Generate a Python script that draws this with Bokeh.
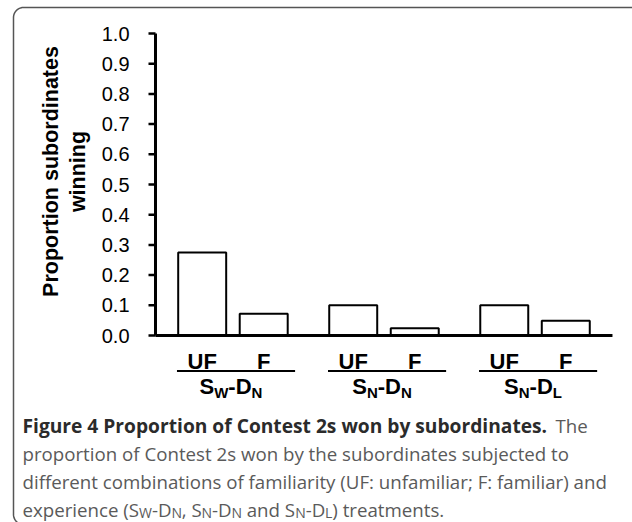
import numpy as np
from bokeh.plotting import figure
from bokeh.models import Range1d, Label, Arrow, ColumnDataSource
from bokeh.core.properties import value
from bokeh.embed import file_html
from bokeh.resources import INLINE

# ---------------- data ----------------
groups = ["SW-DN", "SN-DN", "SN-DL"]
familiarity = ["UF", "F"]
proportions = [0.275, 0.072, 0.100, 0.024, 0.100, 0.049]
y_ticks = [0.0, 0.1, 0.2, 0.3, 0.4, 0.5, 0.6, 0.7, 0.8, 0.9, 1.0]
y_tick_labels = ["0.0", "0.1", "0.2", "0.3", "0.4", "0.5", "0.6", "0.7", "0.8", "0.9", "1.0"]
group_pieces = [("S", "W", "-D", "N"), ("S", "N", "-D", "N"), ("S", "N", "-D", "L")]

# ---------------- layout ----------------
W, H = 632, 522
AX_X, AX_Y0, AX_Y1 = 155, 335, 33      # axis position in canvas px
UNIT_PX = 61.52                          # px per category slot
GP = 0.455                               # gap between groups (in slots)
PAD = 0.259                              # axis overhang beyond bars (in slots)
PX_PER_Y = AX_Y0 - AX_Y1

X0 = -PAD - AX_X / UNIT_PX
X1 = X0 + W / UNIT_PX
Y0 = -(H - AX_Y0) / PX_PER_Y
Y1 = 1 + AX_Y1 / PX_PER_Y

def sx(x):
    return x

def sy(y):
    return H - y

def dx(px):
    return X0 + np.asarray(px) / UNIT_PX

def dy(py):
    return (AX_Y0 - np.asarray(py)) / PX_PER_Y

n_f = len(familiarity)
slot = [g * (n_f + GP) + f + 0.5 for g in range(len(groups)) for f in range(n_f)]
fam_labels = [f for g in groups for f in familiarity]
total = len(groups) * n_f + (len(groups) - 1) * GP

p = figure(x_range=Range1d(X0, X1), y_range=Range1d(Y0, Y1), width=W, height=H,
           output_backend="svg", toolbar_location=None,
           x_axis_location=None, y_axis_location=None,
           min_border=0, min_border_left=0, min_border_right=0,
           min_border_top=0, min_border_bottom=0)
p.outline_line_color = None
p.background_fill_color = "white"
p.border_fill_color = "white"
p.xgrid.visible = False
p.ygrid.visible = False

# card border (rounded on the left, runs off the right and bottom edges)
R = 10
L_, T_, B_, RT = 13, 7, 524, 650
t1 = np.linspace(np.pi / 2, np.pi, 12)      # top-left corner
t2 = np.linspace(np.pi, 1.5 * np.pi, 12)    # bottom-left corner
cx = np.concatenate([[RT], L_ + R + R * np.cos(t1), L_ + R + R * np.cos(t2), [RT]])
cy = np.concatenate([[T_], T_ + R - R * np.sin(t1), B_ - R - R * np.sin(t2), [B_]])
p.line(x=dx(cx), y=dy(cy), line_color="#555555", line_width=1.5)

# bars
src = ColumnDataSource(dict(x=slot, top=proportions, lab=fam_labels))
p.vbar(x="x", top="top", bottom=0, width=0.78, source=src, fill_color="white",
       line_color="black", line_width=2)

# axes lines
ax = -PAD
p.segment(x0=[ax], y0=[0], x1=[total + PAD], y1=[0], line_color="black", line_width=3)
p.segment(x0=[ax], y0=[0], x1=[ax], y1=[1], line_color="black", line_width=3)

# y ticks + labels
tsrc = ColumnDataSource(dict(y=y_ticks, lab=y_tick_labels, x=[ax] * len(y_ticks)))
p.ray(x="x", y="y", length=7, length_units="screen", angle=180, angle_units="deg",
      source=tsrc, line_color="black", line_width=2.5)
p.text(x="x", y="y", text="lab", source=tsrc, x_offset=-26, text_align="right",
       text_baseline="middle", text_font=value("Liberation Sans"),
       text_font_size="20px", text_color="black")

# x category labels
p.text(x="x", y=0, text="lab", source=src, y_offset=26, text_align="center",
       text_baseline="alphabetic", text_font=value("Liberation Sans"),
       text_font_style="bold", text_font_size="22px", text_color="black")

# y axis title (two lines)
for txt, px in (("Proportion subordinates", 50), ("winning", 77)):
    p.add_layout(Label(x=sx(px), y=sy(171), x_units="screen", y_units="screen",
                       text=txt, angle=90, angle_units="deg",
                       text_align="center", text_baseline="middle",
                       text_font="Liberation Sans", text_font_style="bold",
                       text_font_size="21.5px", text_color="black"))

# group labels with subscripts + brackets
BOLD_W = {"S": 0.667, "W": 0.944, "N": 0.722, "L": 0.611, "D": 0.722, "-": 0.333}
MAIN_FS, SUB_FS = 22, 15
span = n_f
for i, pieces in enumerate(group_pieces):
    gc = i * (span + GP) + span / 2
    widths = []
    for k, pc in enumerate(pieces):
        fs = SUB_FS if k % 2 else MAIN_FS
        widths.append(sum(BOLD_W[c] for c in pc) * fs)
    off = -sum(widths) / 2 - 2
    for k, pc in enumerate(pieces):
        sub = k % 2 == 1
        p.add_layout(Label(x=gc, y=sy(392 if sub else 386), x_units="data", y_units="screen",
                           x_offset=off, text=pc, text_align="left",
                           text_baseline="alphabetic", text_font="Liberation Sans",
                           text_font_style="bold",
                           text_font_size=f"{SUB_FS if sub else MAIN_FS}px",
                           text_color="black"))
        off += widths[k]
    yb = float(dy(370.5))
    p.add_layout(Arrow(x_start=gc - 0.91, x_end=gc + 1.01, y_start=yb, y_end=yb,
                       start_units="data", end_units="data", end=None,
                       line_color="black", line_width=2))

# caption
CAP_FONT = "Open Sans"
CAP_FS = 18.7
DARK, GREY = "#2b2b2b", "#5a5a5a"

def cap(text, x, y, bold=False, size=CAP_FS):
    p.add_layout(Label(x=sx(x), y=sy(y), x_units="screen", y_units="screen",
                       text=text, text_align="left", text_baseline="alphabetic",
                       text_font=CAP_FONT, text_font_style="bold" if bold else "normal",
                       text_font_size=f"{size}px",
                       text_color=DARK if bold else GREY))

cap("Figure 4 Proportion of Contest 2s won by subordinates.", 22, 425, bold=True, size=19.2)
cap("The", 555, 425)
cap("proportion of Contest 2s won by the subordinates subjected to", 22, 453)
cap("different combinations of familiarity (UF: unfamiliar; F: familiar) and", 22, 481)

NBSP = "\u00a0"
REG_W = {" ": 0.26, NBSP: 0.26, "e": 0.561, "x": 0.523, "p": 0.613, "r": 0.408, "i": 0.253,
         "n": 0.614, "c": 0.476, "(": 0.295, ")": 0.295, "S": 0.547, "W": 0.923,
         "-": 0.322, "D": 0.716, "N": 0.748, ",": 0.244, "a": 0.556, "d": 0.613,
         "L": 0.519, "t": 0.351, "m": 0.930, "s": 0.477, ".": 0.266}
line4 = [("experience (S", False), ("W", True), ("-D", False), ("N", True),
         (", S", False), ("N", True), ("-D", False), ("N", True),
         (NBSP + "and S", False), ("N", True), ("-D", False), ("L", True),
         (")" + NBSP + "treatments.", False)]
xx = 22
for txt, sub in line4:
    fs = 14 if sub else CAP_FS
    cap(txt, xx, 512 if sub else 509, size=fs)
    xx += sum(REG_W[c] for c in txt) * fs

open("out.html", "w").write(file_html(p, INLINE))
